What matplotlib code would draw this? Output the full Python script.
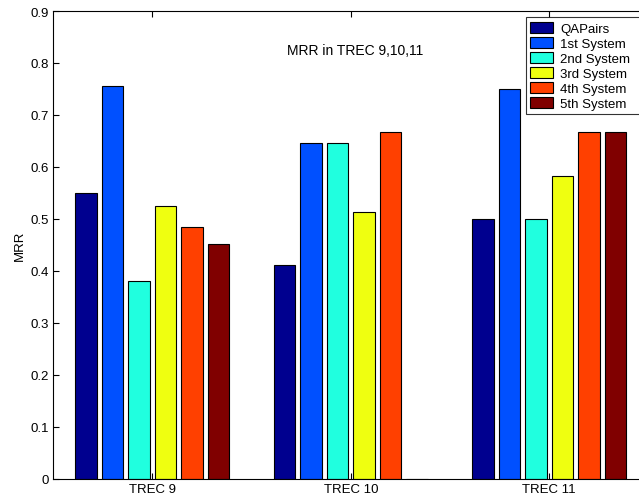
import matplotlib
matplotlib.use("Agg")
import matplotlib.pyplot as plt
import numpy as np

plt.rcParams['font.family'] = ['Liberation Sans', 'DejaVu Sans']

groups = ["TREC 9", "TREC 10", "TREC 11"]
series = ["QAPairs", "1st System", "2nd System", "3rd System", "4th System", "5th System"]
qapairs = [0.55, 0.412, 0.5]
sys1 = [0.755, 0.646, 0.75]
sys2 = [0.38, 0.646, 0.5]
sys3 = [0.525, 0.514, 0.583]
sys4 = [0.485, 0.667, 0.667]
sys5 = [0.451, 0.0, 0.667]
values = [qapairs, sys1, sys2, sys3, sys4, sys5]
colors = ["#00008F", "#0050FF", "#20FFDF", "#EFFF10", "#FF4000", "#800000"]

fig = plt.figure(figsize=(6.39, 5.02), dpi=100)
ax = fig.add_axes([53/639, 22/502, 595.5/639, 468/502])
x = np.arange(1, len(groups) + 1)
n = len(series)
pitch = 0.8 / n
width = pitch * 0.8
for i, (name, vals, c) in enumerate(zip(series, values, colors)):
    ax.bar(x + (i - (n - 1) / 2) * pitch, vals, width, color=c, edgecolor="black",
           linewidth=0.8, label=name)

ax.set_xlim(0.5, 3.5)
ax.set_ylim(0, 0.9)
ax.set_xticks(x)
ax.set_xticklabels(groups)
ax.set_yticks(np.arange(0, 0.91, 0.1))
ax.set_yticklabels(["0", "0.1", "0.2", "0.3", "0.4", "0.5", "0.6", "0.7", "0.8", "0.9"])
ax.tick_params(direction="in", top=True, right=True, labelsize=9.5, length=4, pad=3)
ax.set_ylabel("MRR", fontsize=9.5, labelpad=3)
ax.text(2.02, 0.825, "MRR in TREC 9,10,11", ha="center", va="center", fontsize=10)
leg = ax.legend(loc="upper left", bbox_to_anchor=(0.794, 0.5, 0.215, 0.487), mode="expand",
                fontsize=9.5, frameon=True, fancybox=False, edgecolor="black", handlelength=1.7,
                handleheight=0.9, labelspacing=0.15, borderpad=0.35, handletextpad=0.55,
                borderaxespad=0)
leg.get_frame().set_linewidth(0.8)
for sp in ax.spines.values():
    sp.set_linewidth(0.8)
fig.savefig("out.png", dpi=100)
